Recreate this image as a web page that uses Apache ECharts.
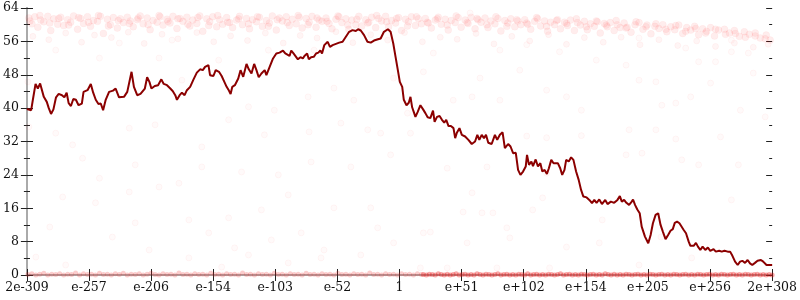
<!DOCTYPE html>
<html><head><meta charset="utf-8">
<script src="https://cdn.jsdelivr.net/npm/echarts@6/dist/echarts.min.js"></script>
<style>html,body{margin:0;padding:0;background:#fff}#c{width:800px;height:300px}</style>
</head><body><div id="c"></div>
<script>
const tickLabels = ['2e-309','e-257','e-206','e-154','e-103','e-52','1','e+51','e+102','e+154','e+205','e+256','2e+308'];

const lineX = [0,4.3,6,8.7,11,13.3,15.3,17,20,22,24.3,26.7,29.3,32,35.3,37.7,40,42,44.3,46.7,49.3,52,55.3,57,61,64.3,66.7,69.3,72,74.3,76.7,79.3,82.7,86.7,89.3,92.7,97.7,101,102.7,105.3,107.7,111,114.3,
116,118.7,121,123.3,125.3,128.7,132,135.3,137.7,141,144.3,146.7,149.3,151,153.7,156,158.7,161,164.3,167.7,171,174.3,177,179.3,182.7,184.3,187.7,190,193.3,196,198.7,201,203.3,205,206.7,209.3,212.7,215,217.7,221,223.3,226,228.7,231,233.3,
236,239.3,241,244.3,247.7,251,254.3,257.7,260,262,264.3,266,268.3,270.3,272.7,275.3,277.7,279.3,282,283.7,286,288.7,291,293.3,295.3,297,299.3,302.7,305,307.7,311,314.3,317.7,321,324.3,327.7,331,333.3,336,339.3,342.7,346,349.3,353.3,356,
359.3,363.3,366,368.7,371,373.3,375.3,377.7,379.3,382,384.3,386,387.7,389.3,391,393.3,396,398.7,401,403.3,406,408.7,410.3,412.7,415.3,417.7,420,422,424.3,426.7,429.3,431,432.7,435.3,437.7,441,444.3,447.7,451,453.3,455.3,457.7,460,462,464.3,467.7,471,473.3,476,
478.7,481,484.3,486.7,489.3,492,494.3,496.7,499.3,502,503.3,505.3,507.7,509.3,512,514.3,516.7,518.7,521,523.3,525.3,527.7,530,532,534.3,536.7,538.7,541,542.7,545.3,547.7,550,552.7,555.3,557.7,560,563.3,566,568.7,571,573.3,576,578.7,582,584.3,587.7,591,594.3,596.7,
598.7,601,603.3,606,608.7,610,612,614.3,616.7,618.7,622,625.3,627.7,630,632.7,635.3,637.7,640,642.7,645.3,647.7,650,652,654.3,656.7,658.7,661,663.3,666,667.7,671,673.3,675.3,677.7,680,682.7,685.3,687.7,691,693.3,696.7,699.3,702,705.3,707.7,710,712.7,715.3,717.7,720,722.7,725.3,727.7,730,732.7,735.3,738.7,741,744.3,747.7,750];

const lineY = [39.8,39.5,42,45.8,44.7,45.9,45.5,42.7,41.5,40,38.6,39.7,42.6,43.4,43.1,42.6,43.7,41.2,40.5,42.2,42,40.7,41.1,43.9,44.3,45.8,43.7,42,41,41.1,39.5,42,43.9,44.2,44.7,42.6,42.7,43.9,44.2,48.7,45.1,43.1,43.4,
43.4,44.7,47.4,46.3,44.7,45.3,45.5,46.9,45.8,45.5,44.7,44.1,43.1,42,43.1,43.7,43.1,44.3,45.1,46.9,48.5,49.3,49.1,49.9,50.3,47.9,47.7,49.1,48.7,47.7,46.3,45.1,44.2,43.4,45.1,45.5,47.1,49.1,47.5,50.6,49.3,48.3,50.6,49.1,47.4,
48.3,49.1,47.9,49.9,51.9,53.1,53.3,53.8,53.1,53.5,52.5,53.8,53.1,53.3,51.7,52.2,51.9,52.5,53.1,51.7,52.2,52.3,53.1,53.3,53.8,53.1,55.1,55.9,54.7,55.1,55.4,55.7,55.9,57.1,58.3,58.7,58.5,58.9,58.6,57.5,55.9,55.7,56.2,56.5,56.7,
58.3,58.9,58.3,55.5,52.3,49.1,46.3,45.1,42,40.7,41.3,42.7,40.2,39.1,37.9,39.1,40.7,39.7,38.8,37.8,37.6,39.4,36.7,37.9,38.1,37.2,36.5,37.2,35.7,35.7,35.2,32.8,34.1,35.2,33.6,33.2,32.4,31.4,32,33.6,32.4,33.6,32.8,33.6,31.7,31.4,33.6,32.4,33.6,
34.2,30.4,31.4,30.8,29.2,29.3,25.2,24,24.8,26,28.8,26.4,27.2,26.1,27.7,26,26.8,24.8,25.2,24.2,25.6,27.6,26.8,27.2,26.8,25.6,24,25.2,27.6,27.2,28.2,27.6,24.8,22.8,20.4,18.8,18.6,18,17.2,18,17.3,18.1,17,18,17,17.6,17.3,18,18.9,
17.6,18,17.3,16.8,17.6,18.1,16.8,15.7,14.8,11.6,9.2,7.6,9.6,12.4,14.4,14.8,12,10.4,8.6,9.6,10.6,11,12.5,12.8,12.4,12.5,10.8,10,8,7,7,7.7,6.8,6,6.8,6,6.6,5.8,6.2,5.6,5.8,5.6,5.8,5.6,5.6,4.6,3.2,2.4,3.2,3.4,2.9,3.6,2.8,2.4,2.9,3.4,3.6,3.2,2.4,2.4,2.4];

const bandPoints = [
[2,61.6],[5,60.2],[8,61.9],[11,59.4],[14,61.1],[17,60.7],[21,62.0],[24,58.6],[27,61.4],[31,60.1],[34,61.8],[37,59.8],[41,61.2],[44,60.6],[47,62.1],[51,58.9],[54,61.5],[57,60.3],[61,61.9],[64,59.6],[67,61.0],[71,60.8],[74,62.0],[77,57.9],[81,61.3],[84,60.0],[87,61.7],[91,59.2],[94,61.4],[97,60.5],
[101,61.8],[104,60.9],[107,59.5],[111,61.2],[114,62.1],[117,60.2],[121,61.6],[124,58.8],[127,61.0],[131,60.6],[134,61.9],[137,59.9],[141,61.3],[144,60.4],[147,62.0],[151,59.1],[154,61.5],[157,60.8],[161,61.8],[164,59.7],[167,61.1],[171,60.3],[174,62.1],[177,58.4],[181,61.4],[184,60.7],[187,61.9],[191,59.5],[194,61.2],[197,60.1],
[201,61.7],[204,60.5],[207,59.3],[211,61.1],[214,62.0],[217,60.0],[221,61.5],[224,59.0],[227,61.2],[231,60.7],[234,61.8],[237,59.6],[241,61.0],[244,60.4],[247,62.1],[251,58.7],[254,61.6],[257,60.9],[261,61.9],[264,59.8],[267,61.3],[271,60.2],[274,61.8],[277,59.2],[281,61.5],[284,60.6],[287,62.0],[291,59.4],[294,61.1],[297,60.8],
[301,61.6],[304,60.3],[307,59.0],[311,61.3],[314,61.9],[317,60.5],[321,61.4],[324,58.9],[327,61.1],[331,60.0],[334,62.0],[337,59.7],[341,61.2],[344,60.6],[347,61.8],[351,59.3],[354,61.5],[357,60.9],[361,62.0],[364,59.5],[367,61.0],[371,60.4],[374,61.7],[377,58.6],[381,61.3],[384,60.7],[387,61.9],[391,59.8],[394,61.4],[397,60.2],
[401,61.5],[404,60.4],[407,59.2],[411,61.1],[414,61.8],[417,60.1],[421,61.3],[424,58.7],[427,61.0],[431,60.5],[434,61.7],[437,59.4],[441,61.1],[444,60.3],[447,61.8],[451,59.0],[454,61.2],[457,60.6],[461,61.6],[464,59.3],[467,60.9],[471,60.2],[474,61.5],[477,58.5],[481,61.0],[484,60.4],[487,61.4],[491,59.5],[494,60.9],[497,60.0],
[501,61.2],[504,60.1],[507,58.9],[511,60.8],[514,61.4],[517,59.7],[521,60.9],[524,58.4],[527,60.6],[531,60.0],[534,61.2],[537,59.0],[541,60.6],[544,59.8],[547,61.1],[551,58.6],[554,60.5],[557,59.9],[561,60.8],[564,58.8],[567,60.2],[571,59.6],[574,60.7],[577,58.0],[581,60.3],[584,59.5],[587,60.5],[591,58.6],[594,60.0],[597,59.3],
[601,60.4],[604,59.4],[608,58.2],[612,60.0],[616,60.5],[620,58.9],[624,59.9],[628,57.8],[632,59.6],[636,59.1],[640,60.0],[644,58.3],[648,59.5],[652,58.8],[656,59.9],[660,57.9],[664,59.3],[668,58.7],[672,59.6],[676,57.6],[680,59.0],[684,58.4],[688,59.3],[692,57.3],[696,58.7],
[702,58.9],[707,58.0],[712,58.6],[717,57.2],[722,58.3],[727,57.7],[733,58.0],[738,56.8],[744,57.5],[748,56.3]];

const bandPoints2 = [[3,60.9],[13,62.2],[23,60.4],[32,61.5],[42,59.9],[52,61.7],[62,60.6],[72,62.2],[82,59.7],[92,61.0],[103,60.3],[112,61.6],[122,60.0],[133,62.2],[142,60.8],[152,61.4],[162,60.1],[172,61.7],[183,59.8],[192,62.2],[202,60.6],[213,61.4],[223,60.2],[232,61.9],[243,59.6],[252,61.2],[262,60.5],[273,62.2],[283,60.0],[292,61.6],[302,60.8],[313,62.1],[323,59.9],[332,61.3],[343,60.4],[352,62.2],[362,60.7],[372,61.5],[383,59.7],[392,61.9],[403,60.6],[413,61.4],[423,59.9],[432,62.1],[443,60.5],[453,61.5],[463,60.0],[472,61.9],[483,59.6],[493,61.2],[503,60.4],[513,61.7],[523,59.6],[533,61.0],[543,60.3],[553,61.4],[563,59.5],[573,60.9],[583,59.9],[593,61.0],[603,59.2],[613,60.7],[623,59.5],[633,60.2],[643,58.9],[653,59.8],[663,58.4],[673,59.1],[683,58.0],[693,58.9],[703,57.7],[713,57.9],[723,57.0],[733,57.3],[743,56.6]];

const fadePoints = [[6,57.2],[22,56.4],[39,58.0],[55,55.8],[68,57.5],[85,56.9],[102,58.2],[118,55.5],[136,57.7],[152,56.6],[171,58.1],[188,55.9],[205,57.3],[222,56.2],[240,58.0],[258,55.6],[275,57.4],[292,56.8],[311,58.3],[328,55.7],[346,57.6],[363,56.3],[380,58.1],[398,55.9],[416,57.0],[433,56.5],[452,57.9],[470,55.4],[488,57.2],[506,56.1],[525,57.6],[543,55.3],[561,56.9],[580,55.8],[598,57.0],[617,55.2],[636,56.4],[655,55.0],[674,56.1],[693,54.8],[712,55.6],[731,54.6],[746,55.3]];

const sparsePoints = [[73,23.2],[56,28],[109,26.4],[103,19.9],[133,21.1],[153,22],[176,25.9],[203,13.7],[216,24.7],[236,15.6],[253,24],[263,19.2],[286,27.1],[309,16.1],[326,25.9],[346,16.1],[366,28.8],[9,4.3],[39,2.4],[123,6],[163,4.1],[196,1.9],[223,4.8],[263,2.9],[296,4.1],[336,4.8],[23,11.5],[36,18.7],[69,17.3],[86,9.1],[109,12.5],[163,13.2],[183,10.1],[209,6.5],[246,8.4],[276,10.1],[299,6],[353,11.3],[369,7.7],
[29,53.9],[73,52],[93,55.6],[133,52],[156,46.7],[193,51.5],[223,40.3],[243,53.9],[249,39.5],[283,42.7],[309,44.8],[329,41.9],[343,34.8],[356,34],[46,31.2],[103,35.2],[176,30.7],[239,33.6],[284,34.3],[316,36.4],[2,35.5],[1,46.3],[369,47.2],[29,34],[129,36],[203,37.2],[146,56.3],[289,53.9],
[446,62.8],[409,53.2],[399,48.7],[456,47.2],[476,41.9],[496,49.1],[523,44.3],[543,42.7],[558,39.5],[573,51.5],[603,50.3],[616,46.7],[633,46.3],[639,40.7],[653,41.2],[668,42.7],[688,46],[676,51.1],[693,51.1],[709,53.5],[726,53.2],[731,48.4],[718,39.5],[743,37.9],[606,34.8],[633,34.8],[698,33.1],[653,32.6],[558,33.4],[523,32.9],[503,33.3],[383,38.8],[386,34],[429,41.9],[448,42.7],[476,53.9],[536,53.5],[503,55.2],[616,56.8],[663,54.4],[709,56.3],
[423,25.6],[448,19.7],[439,15.1],[458,14.9],[509,15.6],[519,18.5],[579,13.2],[603,28.8],[619,29.2],[659,27.6],[676,26.4],[709,18],[716,26.4],[399,10.1],[406,10.3],[443,7.7],[483,11.3],[486,8.9],[543,6.7],[576,7.7],[616,2.4],[638,9.1],[669,4.1],[396,1.7],[423,1.7],[473,1.7],[526,1.7],[463,25.9],[523,24.4],[469,14.9]];

const zeroPointsLeft = [[1,0.1],[5,0.3],[9,0],[13,0.2],[17,0.4],[21,0],[25,0.2],[29,0.1],[33,0.3],[37,0],[41,0.2],[45,0.1],[49,0.5],[53,0],[57,0.3],[61,0.1],[65,0.2],[69,0],[73,0.4],[77,0.1],[81,0.2],[85,0],[89,0.3],[93,0.1],[97,0.4],[101,0],[105,0.2],[109,0.1],[113,0.3],[117,0],[121,0.2],[125,0.4],[129,0.1],[133,0],[137,0.3],[141,0.1],[145,0.2],[149,0],[153,0.5],[157,0.1],[161,0.2],[165,0],[169,0.3],[173,0.1],[177,0.2],[181,0],[185,0.4],[189,0.1],[193,0.2],[197,0],[201,0.3],[205,0.1],[209,0.2],[213,0],[217,0.5],[221,0.1],[225,0.2],[229,0],[233,0.3],[237,0.1],[241,0.2],[245,0],[249,0.4],[253,0.1],[257,0.2],[261,0],[265,0.3],[269,0.1],[273,0.2],[277,0],[281,0.4],[285,0.1],[289,0.2],[293,0],[297,0.3],[301,0.1],[305,0.2],[309,0],[313,0.4],[317,0.1],[321,0.2],[325,0],[329,0.3],[333,0.1],[337,0.2],[341,0],[345,0.5],[349,0.1],[353,0.2],[357,0],[361,0.3],[365,0.1],[369,0.2],[373,0],[377,0.3],[381,0.1],[385,0.2],[389,0],[393,0.3],[397,0.1]];

const zeroPointsRight = [[399,0.1],[402,0],[405,0.2],[408,0.1],[411,0],[414,0.3],[417,0.1],[420,0],[423,0.2],[426,0],[429,0.1],[432,0.3],[435,0],[438,0.1],[441,0.2],[444,0],[447,0.1],[450,0],[453,0.3],[456,0.1],[459,0],[462,0.2],[465,0.1],[468,0],[471,0.1],[474,0.3],[477,0],[480,0.1],[483,0.2],[486,0],[489,0.1],[492,0],[495,0.2],[498,0.1],[501,0],[504,0.3],[507,0],[510,0.1],[513,0.2],[516,0],[519,0.1],[522,0],[525,0.2],[528,0.1],[531,0],[534,0.1],[537,0.3],[540,0],[543,0.1],[546,0.2],[549,0],[552,0.1],[555,0],[558,0.2],[561,0.1],[564,0],[567,0.1],[570,0.2],[573,0],[576,0.1],[579,0],[582,0.3],[585,0.1],[588,0],[591,0.2],[594,0],[597,0.1],[600,0],[603,0.2],[606,0.1],[609,0],[612,0.1],[615,0.2],[618,0],[621,0.1],[624,0],[627,0.2],[630,0.1],[633,0],[636,0.1],[639,0.2],[642,0],[645,0.1],[648,0],[651,0.2],[654,0.1],[657,0],[660,0.1],[663,0.2],[666,0],[669,0.1],[672,0],[675,0.2],[678,0.1],[681,0],[684,0.1],[687,0.2],[690,0],[693,0.1],[696,0],[699,0.2],[702,0.1],[705,0],[708,0.1],[711,0.2],[714,0],[717,0.1],[720,0],[723,0.2],[726,0.1],[729,0],[732,0.1],[735,0.2],[738,0],[741,0.1],[744,0],[747,0.1],[750,0]];

const STEP = 62.5;
const font = {fontFamily: 'DejaVu Serif', fontSize: 12.5, color: '#111'};
const grey = '#aaaaaa';
const tickStyle = {color: '#222', width: 1};

function xAxisBase(extra) {
  return Object.assign({type: 'value', min: 0, max: 750, interval: STEP, splitLine: {show: false}}, extra);
}
function yAxisBase(extra) {
  return Object.assign({type: 'value', min: 0, max: 64, interval: 8, splitLine: {show: false}, minorSplitLine: {show: false}}, extra);
}

const chart = echarts.init(document.getElementById('c'), null, {renderer: 'canvas'});
chart.setOption({
  animation: false,
  grid: {left: 24, right: 26, top: 8, bottom: 25, containLabel: false},
  xAxis: [
    xAxisBase({position: 'bottom', axisLine: {lineStyle: {color: grey, width: 2}},
      axisTick: {length: 6, lineStyle: tickStyle},
      axisLabel: Object.assign({margin: 6, formatter: v => tickLabels[Math.round(v / STEP)] || ''}, font)}),
    xAxisBase({position: 'bottom', axisLine: {show: false},
      axisTick: {inside: true, length: 6, lineStyle: tickStyle}, axisLabel: {show: false}}),
    xAxisBase({position: 'top', axisLine: {lineStyle: {color: grey, width: 2}},
      axisTick: {show: false}, axisLabel: {show: false}})
  ],
  yAxis: [
    yAxisBase({position: 'left', axisLine: {lineStyle: {color: grey, width: 2}},
      axisTick: {length: 6, lineStyle: tickStyle},
      minorTick: {show: true, splitNumber: 2, length: 3, lineStyle: tickStyle},
      axisLabel: Object.assign({margin: 8}, font)}),
    yAxisBase({position: 'left', axisLine: {show: false},
      axisTick: {inside: true, length: 6, lineStyle: tickStyle},
      minorTick: {show: true, splitNumber: 2, length: 3, lineStyle: tickStyle},
      axisLabel: {show: false}}),
    yAxisBase({position: 'right', axisLine: {lineStyle: {color: grey, width: 2}},
      axisTick: {length: 6, lineStyle: tickStyle},
      minorTick: {show: true, splitNumber: 2, length: 3, lineStyle: tickStyle},
      axisLabel: {show: false}}),
    yAxisBase({position: 'right', axisLine: {show: false},
      axisTick: {inside: true, length: 6, lineStyle: tickStyle},
      minorTick: {show: true, splitNumber: 2, length: 3, lineStyle: tickStyle},
      axisLabel: {show: false}})
  ],
  series: [
    {type: 'scatter', data: bandPoints, symbolSize: 7, clip: false, silent: true, z: 2,
      itemStyle: {color: 'rgba(255,0,0,0.09)', borderColor: 'rgba(255,0,0,0.04)', borderWidth: 1}},
    {type: 'scatter', data: bandPoints2, symbolSize: 7, clip: false, silent: true, z: 2,
      itemStyle: {color: 'rgba(255,0,0,0.09)', borderColor: 'rgba(255,0,0,0.04)', borderWidth: 1}},
    {type: 'scatter', data: fadePoints, symbolSize: 6, clip: false, silent: true, z: 2,
      itemStyle: {color: 'rgba(255,0,0,0.05)', borderColor: 'rgba(255,0,0,0.05)', borderWidth: 1}},
    {type: 'scatter', data: sparsePoints, symbolSize: 6, clip: false, silent: true, z: 2,
      itemStyle: {color: 'rgba(255,0,0,0.025)', borderColor: 'rgba(255,0,0,0.05)', borderWidth: 1}},
    {type: 'scatter', data: zeroPointsLeft, symbolSize: 5, clip: false, silent: true, z: 3,
      itemStyle: {color: 'rgba(235,30,30,0.28)', borderWidth: 0}},
    {type: 'scatter', data: zeroPointsRight, symbolSize: 5, clip: false, silent: true, z: 3,
      itemStyle: {color: 'rgba(235,20,20,0.45)', borderWidth: 0}},
    {type: 'line', data: lineX.map((x, i) => [x, lineY[i]]), symbol: 'none', z: 5, silent: true,
      lineStyle: {color: '#8b0000', width: 2}}
  ]
});
</script>
</body></html>
